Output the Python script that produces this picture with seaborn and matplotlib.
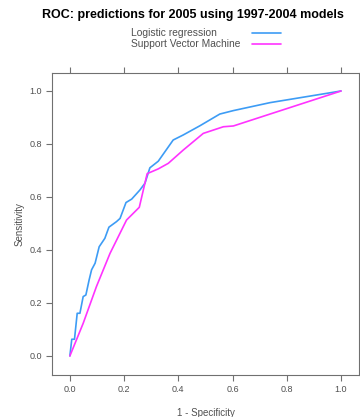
"""
ROC curves: logistic regression vs support vector machine (2005 predictions).
"""
import matplotlib
matplotlib.use("Agg")
import matplotlib.pyplot as plt
import seaborn as sns
import pandas as pd

# ROC points (1 - specificity, sensitivity)
logit_fpr = [0.0, 0.007, 0.017, 0.027, 0.037, 0.049, 0.059, 0.071, 0.080, 0.093,
             0.108, 0.129, 0.144, 0.172, 0.185, 0.207, 0.228, 0.258, 0.277, 0.295,
             0.326, 0.381, 0.418, 0.480, 0.553, 0.603, 0.738, 1.0]
logit_tpr = [0.0, 0.063, 0.063, 0.161, 0.161, 0.224, 0.230, 0.287, 0.325, 0.350,
             0.412, 0.444, 0.486, 0.507, 0.519, 0.579, 0.592, 0.626, 0.652, 0.710,
             0.735, 0.815, 0.834, 0.869, 0.913, 0.926, 0.956, 1.0]

svm_fpr = [0.0, 0.049, 0.098, 0.148, 0.209, 0.256, 0.285, 0.326, 0.363, 0.418,
           0.492, 0.566, 0.603, 1.0]
svm_tpr = [0.0, 0.123, 0.262, 0.387, 0.513, 0.561, 0.688, 0.706, 0.727, 0.777,
           0.840, 0.865, 0.868, 1.0]

model_names = ["Logistic regression", "Support Vector Machine"]
model_colors = ["#3d9cf5", "#ff33ff"]

x_ticks = [0.0, 0.2, 0.4, 0.6, 0.8, 1.0]
y_ticks = [0.0, 0.2, 0.4, 0.6, 0.8, 1.0]

sns.set_theme(style="white")
plt.rcParams["font.family"] = ["Liberation Sans", "DejaVu Sans"]

df = pd.concat([
    pd.DataFrame({"fpr": logit_fpr, "tpr": logit_tpr, "model": model_names[0]}),
    pd.DataFrame({"fpr": svm_fpr, "tpr": svm_tpr, "model": model_names[1]}),
], ignore_index=True)

fig = plt.figure(figsize=(3.6, 4.17), dpi=100)
ax = fig.add_axes([0.1444, 0.1007, 0.8526, 0.7243])

sns.lineplot(data=df, x="fpr", y="tpr", hue="model", palette=model_colors,
             sort=False, estimator=None, linewidth=1.2, ax=ax, legend=False)

ax.set_xlim(-0.066, 1.066)
ax.set_ylim(-0.072, 1.068)
ax.set_xticks(x_ticks)
ax.set_yticks(y_ticks)
ax.set_xticklabels([f"{v:.1f}" for v in x_ticks])
ax.set_yticklabels([f"{v:.1f}" for v in y_ticks])

# lattice-like axis: grey frame, outward ticks on all sides, labels left/bottom
grey = "#707070"
for spine in ax.spines.values():
    spine.set_color(grey)
    spine.set_linewidth(0.8)
ax.tick_params(axis="both", which="both", direction="out", length=4, width=0.8,
               color=grey, labelcolor="#505050", labelsize=6.5,
               top=True, right=True, bottom=True, left=True, pad=3)

ax.set_xlabel("1 - Specificity", fontsize=7, color="#505050", labelpad=10)
ax.set_ylabel("Sensitivity", fontsize=7, color="#505050", labelpad=4)

fig.text(0.536, 0.963, "ROC: predictions for 2005 using 1997-2004 models",
         ha="center", va="center", fontsize=9, fontweight="bold", color="black")

# key at the top: left-aligned text, line samples to the right
key_y = [1 - 32.5 / 417, 1 - 44 / 417]
for name, color, y in zip(model_names, model_colors, key_y):
    fig.text(131 / 360, y, name, ha="left", va="center", fontsize=7.4,
             color="#505050")
    fig.add_artist(plt.Line2D([252 / 360, 281 / 360], [y, y],
                              transform=fig.transFigure, color=color,
                              linewidth=1.2))

fig.savefig("out.png", dpi=100)
plt.close(fig)
